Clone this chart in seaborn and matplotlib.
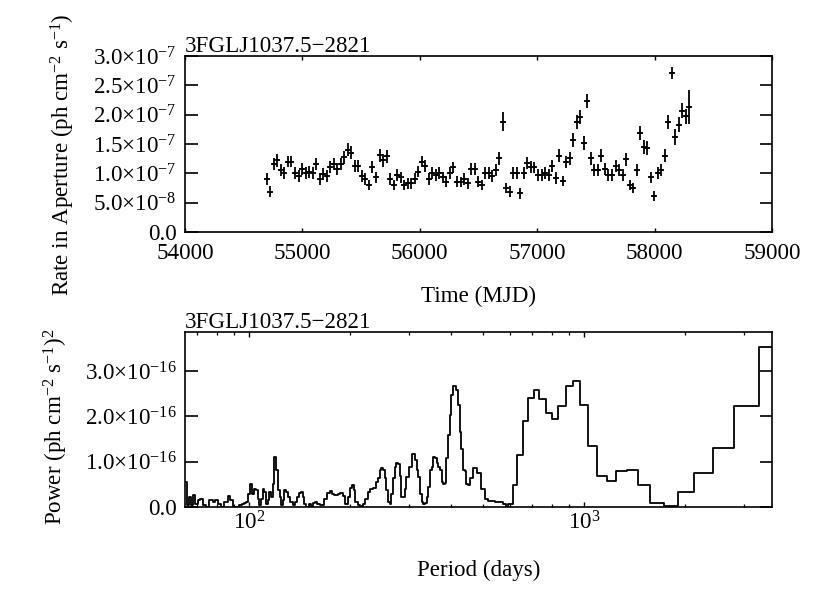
import numpy as np
import pandas as pd
import matplotlib
matplotlib.use("Agg")
import matplotlib.pyplot as plt
import seaborn as sns
from matplotlib.ticker import LogLocator, LogFormatterMathtext, NullFormatter

sns.set_theme(style="white")
plt.rcParams['font.family'] = ['Liberation Serif', 'DejaVu Serif']
plt.rcParams['mathtext.fontset'] = 'custom'
plt.rcParams['mathtext.rm'] = 'Liberation Serif'
plt.rcParams['mathtext.it'] = 'Liberation Serif:italic'
plt.rcParams['mathtext.bf'] = 'Liberation Serif:bold'
plt.rcParams['axes.unicode_minus'] = True

FS = 16.6
source_name = "3FGLJ1037.5\u22122821"

# ---------------- light curve (30-day bins) ----------------
mjd = [54697, 54727, 54757, 54787, 54817, 54847, 54877, 54907, 54937, 54967,
       54997, 55027, 55057, 55087, 55117, 55147, 55177, 55207, 55237, 55267,
       55297, 55327, 55357, 55387, 55417, 55447, 55477, 55507, 55537, 55567,
       55597, 55627, 55657, 55687, 55717, 55747, 55777, 55807, 55837, 55867,
       55897, 55927, 55957, 55987, 56017, 56047, 56077, 56107, 56137, 56167,
       56197, 56227, 56257, 56287, 56317, 56347, 56377, 56407, 56437, 56467,
       56497, 56527, 56557, 56587, 56617, 56647, 56677, 56707, 56737, 56767,
       56797, 56827, 56857, 56887, 56917, 56947, 56977, 57007, 57037, 57067,
       57097, 57127, 57157, 57187, 57217, 57247, 57277, 57307, 57337, 57367,
       57397, 57427, 57457, 57487, 57517, 57547, 57577, 57607, 57637, 57667,
       57697, 57727, 57757, 57787, 57817, 57847, 57877, 57907, 57937, 57967,
       57997, 58027, 58057, 58087, 58117, 58147, 58177, 58207, 58237, 58267,
       58297]
# rate in units of 1e-7 ph cm^-2 s^-1
rate_e7 = [0.90, 0.69, 1.16, 1.22, 1.06, 1.00, 1.20, 1.20, 1.01, 0.96,
           1.07, 1.00, 1.02, 1.00, 1.16, 0.90, 0.99, 0.96, 1.11, 1.16,
           1.07, 1.16, 1.27, 1.40, 1.35, 1.12, 1.12, 0.96, 0.90, 0.80,
           1.11, 0.93, 1.31, 1.22, 1.29, 0.90, 0.80, 0.97, 0.93, 0.80,
           0.83, 0.83, 0.91, 1.03, 1.20, 1.13, 0.90, 1.01, 0.97, 1.00,
           0.93, 0.86, 1.01, 1.10, 0.86, 0.85, 0.90, 0.83, 1.07, 1.07,
           0.86, 0.80, 1.00, 1.00, 0.96, 1.06, 1.26, 1.88, 0.75, 0.69,
           1.01, 1.01, 0.66, 1.01, 1.18, 1.11, 1.10, 0.97, 0.97, 1.00,
           0.97, 1.12, 0.92, 1.30, 0.87, 1.19, 1.26, 1.57, 1.87, 1.96,
           1.51, 2.24, 1.26, 1.06, 1.06, 1.30, 1.08, 0.97, 0.97, 1.12,
           1.06, 0.97, 1.24, 0.80, 0.75, 1.06, 1.69, 1.45, 1.43, 0.93,
           0.61, 1.01, 1.06, 1.30, 1.87, 2.71, 1.62, 1.83, 2.07, 1.97,
           2.13]
rate_err_e7 = [0.10, 0.09, 0.10, 0.11, 0.10, 0.10, 0.10, 0.10, 0.10, 0.10,
               0.10, 0.10, 0.10, 0.10, 0.10, 0.10, 0.10, 0.10, 0.10, 0.10,
               0.10, 0.10, 0.11, 0.11, 0.11, 0.10, 0.10, 0.10, 0.10, 0.09,
               0.10, 0.10, 0.11, 0.11, 0.11, 0.10, 0.09, 0.10, 0.10, 0.09,
               0.09, 0.09, 0.10, 0.10, 0.10, 0.10, 0.10, 0.10, 0.10, 0.10,
               0.10, 0.09, 0.10, 0.10, 0.09, 0.09, 0.10, 0.09, 0.10, 0.10,
               0.09, 0.09, 0.10, 0.10, 0.10, 0.10, 0.11, 0.16, 0.09, 0.09,
               0.10, 0.10, 0.09, 0.10, 0.10, 0.10, 0.10, 0.10, 0.10, 0.10,
               0.10, 0.10, 0.10, 0.11, 0.09, 0.10, 0.11, 0.12, 0.12, 0.12,
               0.12, 0.12, 0.11, 0.10, 0.10, 0.11, 0.10, 0.10, 0.10, 0.10,
               0.10, 0.10, 0.11, 0.09, 0.09, 0.10, 0.12, 0.12, 0.12, 0.10,
               0.09, 0.10, 0.10, 0.11, 0.12, 0.11, 0.13, 0.13, 0.13, 0.13,
               0.29]
bin_halfwidth = 15  # days

time_ticks = [54000, 55000, 56000, 57000, 58000, 59000]
rate_ticks = [0.0, 0.5e-7, 1.0e-7, 1.5e-7, 2.0e-7, 2.5e-7, 3.0e-7]
rate_ticklabels = ["0.0", "5.0\u00d710$^{-8}$", "1.0\u00d710$^{-7}$", "1.5\u00d710$^{-7}$",
                   "2.0\u00d710$^{-7}$", "2.5\u00d710$^{-7}$", "3.0\u00d710$^{-7}$"]

# ---------------- power spectrum ----------------
period = [63.0, 65.0, 66.2, 67.0, 68.0, 69.0, 70.2, 71.3, 72.6, 74.3,
          75.7, 76.9, 78.1, 79.2, 80.5, 82.3, 84.2, 86.2, 87.6, 89.2,
          91.3, 93.4, 95.1, 96.7, 97.8, 99.4, 100.6, 101.9, 103.3, 104.8,
          106.0, 107.2, 108.5, 109.7, 111.0, 112.2, 113.5, 114.8, 116.2, 117.5,
          118.8, 120.2, 121.7, 123.1, 124.5, 125.9, 127.4, 128.9, 130.4, 131.9,
          134.9, 136.5, 138.8, 141.2, 142.9, 144.5, 146.1, 147.8, 150.6, 153.1,
          154.8, 157.3, 159.1, 162.1, 165.0, 167.7, 170.4, 173.6, 176.8, 179.6,
          183.8, 187.2, 190.3, 193.5, 196.9, 200.1, 202.9, 205.1, 207.4, 210.8,
          214.1, 218.1, 222.1, 225.8, 229.5, 233.8, 238.3, 242.2, 245.0, 247.9,
          250.8, 253.7, 256.6, 259.6, 262.6, 265.7, 268.7, 271.8, 275.0, 278.1,
          281.4, 284.6, 287.9, 291.2, 294.6, 300.1, 305.0, 308.5, 312.1, 315.7,
          319.3, 323.0, 326.7, 330.5, 334.3, 338.2, 342.1, 346.0, 350.0, 354.0,
          358.1, 362.3, 366.5, 370.7, 375.0, 379.3, 383.0, 387.5, 391.9, 396.4,
          401.1, 405.6, 410.3, 415.1, 419.9, 424.8, 429.7, 434.6, 439.6, 444.7,
          449.8, 455.0, 465.9, 476.7, 490.0, 504.9, 516.6, 540.8, 570.2, 583.4,
          592.9, 610.8, 627.9, 654.4, 680.4, 707.5, 734.0, 768.5, 799.1, 836.6,
          879.6, 927.3, 970.8, 1028.1, 1094.0, 1166.6, 1243.9, 1338.4, 1443.8, 1571.7,
          1723.2, 1902.1, 2127.9, 2420.0, 2789.1, 3313.5, 3700.0]
# power in units of 1e-16 (ph cm^-2 s^-1)^2
power_e16 = [0.55, 0.04, 0.22, 0.04, 0.26, 0.06, 0.15, 0.18, 0.04, 0.01,
             0.15, 0.16, 0.11, 0.15, 0.07, 0.01, 0.11, 0.24, 0.15, 0.01,
             0.01, 0.04, 0.07, 0.09, 0.11, 0.29, 0.51, 0.29, 0.40, 0.38,
             0.18, 0.04, 0.18, 0.40, 0.33, 0.07, 0.15, 0.33, 0.22, 0.51,
             1.10, 0.81, 0.37, 0.22, 0.04, 0.15, 0.38, 0.33, 0.22, 0.11,
             0.04, 0.11, 0.22, 0.31, 0.33, 0.22, 0.07, 0.01, 0.06, 0.01,
             0.09, 0.11, 0.06, 0.04, 0.04, 0.18, 0.31, 0.35, 0.28, 0.26,
             0.29, 0.31, 0.24, 0.07, 0.22, 0.42, 0.48, 0.37, 0.11, 0.04,
             0.02, 0.07, 0.18, 0.33, 0.40, 0.43, 0.55, 0.65, 0.81, 0.87,
             0.82, 0.63, 0.37, 0.11, 0.06, 0.29, 0.63, 0.88, 0.96, 0.94,
             0.68, 0.22, 0.21, 0.40, 0.66, 0.88, 1.16, 1.16, 1.03, 0.81,
             0.66, 0.29, 0.11, 0.06, 0.09, 0.22, 0.44, 0.81, 0.88, 1.10,
             1.09, 0.97, 0.88, 0.81, 0.55, 0.51, 0.53, 1.09, 1.58, 2.02,
             2.46, 2.66, 2.66, 2.57, 2.24, 1.65, 1.29, 0.82, 0.79, 0.50,
             0.48, 0.63, 0.86, 0.75, 0.40, 0.18, 0.13, 0.11, 0.06, 0.01,
             0.07, 0.48, 1.15, 1.89, 2.40, 2.59, 2.39, 2.07, 1.95, 2.22,
             2.66, 2.78, 2.24, 1.35, 0.68, 0.57, 0.79, 0.82, 0.49, 0.09,
             0.02, 0.32, 0.76, 1.31, 2.22, 3.53, 3.53]
power_ticks = [0.0, 1.0e-16, 2.0e-16, 3.0e-16]
power_ticklabels = ["0.0", "1.0\u00d710$^{-16}$", "2.0\u00d710$^{-16}$", "3.0\u00d710$^{-16}$"]

lc = pd.DataFrame({"mjd": mjd,
                   "rate": np.array(rate_e7) * 1e-7,
                   "err": np.array(rate_err_e7) * 1e-7})
ps = pd.DataFrame({"period": period, "power": np.array(power_e16) * 1e-16})

fig = plt.figure(figsize=(8.3, 6.12), dpi=100)
fig.patch.set_facecolor("white")
ax1 = fig.add_axes([185 / 830, 1 - 232 / 612, 587 / 830, 176 / 612])
ax2 = fig.add_axes([185 / 830, 1 - 507 / 612, 587 / 830, 175 / 612])

for ax in (ax1, ax2):
    ax.set_facecolor("white")
    for sp in ax.spines.values():
        sp.set_color("black")
        sp.set_linewidth(1.2)
        sp.set_visible(True)

# ---- top: light curve ----
ax1.errorbar(lc["mjd"], lc["rate"], yerr=lc["err"], xerr=bin_halfwidth,
             fmt="none", ecolor="black", elinewidth=1.3, capsize=0)
sns.scatterplot(data=lc, x="mjd", y="rate", marker="_", s=14, color="black",
                linewidth=1.3, ax=ax1, legend=False)
ax1.set_xlim(54000, 59000)
ax1.set_ylim(0, 3e-7)
ax1.set_xticks(time_ticks)
ax1.set_xticklabels([str(t) for t in time_ticks])
ax1.set_yticks(rate_ticks)
ax1.set_yticklabels(rate_ticklabels)
ax1.tick_params(axis="x", which="major", direction="in", length=3, width=1,
                bottom=True, top=True, labelsize=FS, pad=8, colors="black")
ax1.tick_params(axis="y", which="major", direction="in", length=9, width=1.2,
                left=True, right=True, labelsize=FS, pad=6, colors="black")
ax1.set_xlabel("Time (MJD)", fontsize=FS, color="black")
ax1.xaxis.set_label_coords(0.5, -0.305)
ax1.set_ylabel("Rate in Aperture (ph cm$^{-2}$ s$^{-1}$)", fontsize=FS, color="black")
ax1.yaxis.set_label_coords(-0.184, 0.44)
ax1.text(0.0, 1.023, source_name, transform=ax1.transAxes, ha="left",
         va="baseline", fontsize=FS, color="black")

# ---- bottom: power spectrum ----
sns.lineplot(data=ps, x="period", y="power", drawstyle="steps-post",
             color="black", linewidth=1.3, ax=ax2, legend=False)
ax2.set_xscale("log")
ax2.set_xlim(64.3, 3632)
ax2.set_ylim(0, 3.86e-16)
ax2.xaxis.set_major_locator(LogLocator(base=10))
ax2.xaxis.set_major_formatter(LogFormatterMathtext())
ax2.xaxis.set_minor_locator(LogLocator(base=10, subs=np.arange(2, 10)))
ax2.xaxis.set_minor_formatter(NullFormatter())
ax2.set_yticks(power_ticks)
ax2.set_yticklabels(power_ticklabels)
ax2.tick_params(axis="x", which="major", direction="in", length=3.5, width=1,
                bottom=True, top=True, labelsize=FS, pad=3, colors="black")
ax2.tick_params(axis="x", which="minor", direction="in", length=2, width=0.9,
                bottom=True, top=True, colors="black")
ax2.tick_params(axis="y", which="major", direction="in", length=9, width=1.2,
                left=True, right=True, labelsize=FS, pad=6, colors="black")
ax2.set_xlabel("Period (days)", fontsize=FS, color="black")
ax2.xaxis.set_label_coords(0.5, -0.30)
ax2.set_ylabel("Power (ph cm$^{-2}$ s$^{-1}$)$^{2}$", fontsize=FS, color="black")
ax2.yaxis.set_label_coords(-0.196, 0.46)
ax2.text(0.0, 1.023, source_name, transform=ax2.transAxes, ha="left",
         va="baseline", fontsize=FS, color="black")

fig.savefig("out.png", dpi=100, facecolor="white")
